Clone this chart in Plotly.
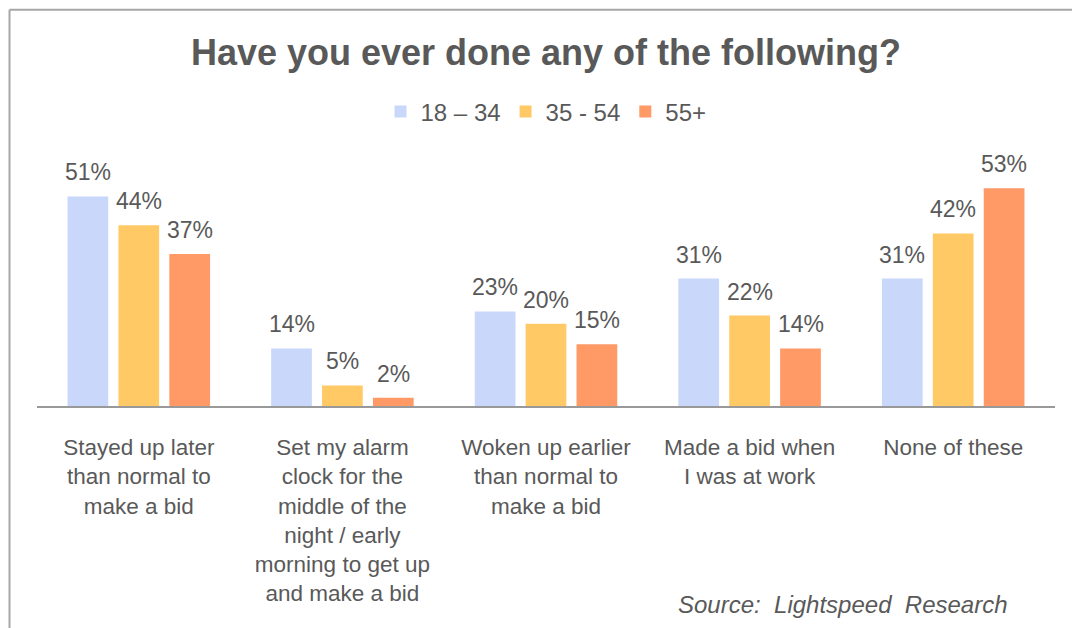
import plotly.graph_objects as go

categories = [
    "Stayed up later<br>than normal to<br>make a bid",
    "Set my alarm<br>clock for the<br>middle of the<br>night / early<br>morning to get up<br>and make a bid",
    "Woken up earlier<br>than normal to<br>make a bid",
    "Made a bid when<br>I was at work",
    "None of these",
]
series_names = ["18 – 34", "35 - 54", "55+"]
age_18_34 = [51, 14, 23, 31, 31]
age_35_54 = [44, 5, 20, 22, 42]
age_55_plus = [37, 2, 15, 14, 53]
series_values = [age_18_34, age_35_54, age_55_plus]
colors = ["#C9D7FA", "#FFC966", "#FF9966"]

TXT = "#595959"
FONT = "Liberation Sans, Arial, sans-serif"

x_idx = list(range(len(categories)))
fig = go.Figure()
for name, vals, col in zip(series_names, series_values, colors):
    fig.add_trace(go.Bar(x=x_idx, y=vals, name=name, marker=dict(color=col, line=dict(width=0))))

bargap = 0.25
slot = (1 - bargap) / len(series_names)
for si, vals in enumerate(series_values):
    off = (si - (len(series_names) - 1) / 2) * slot
    for ci, v in enumerate(vals):
        fig.add_annotation(x=ci + off, y=v, xref="x", yref="y", text=f"{v}%",
                           showarrow=False, yanchor="bottom", yshift=9,
                           font=dict(size=23, color=TXT, family=FONT))

fig.add_annotation(x=0.9558, y=-0.774, xref="paper", yref="paper",
                   text="<i>Source:  Lightspeed  Research</i>", showarrow=False,
                   xanchor="right", yanchor="middle",
                   font=dict(size=24, color=TXT, family=FONT))

# frame lines (left and top)
fig.add_shape(type="line", xref="paper", yref="paper", x0=-0.0270, x1=-0.0270, y0=-0.9, y1=1.5478,
              line=dict(color="#A6A6A6", width=2))
fig.add_shape(type="line", xref="paper", yref="paper", x0=-0.0270, x1=1.05, y0=1.5478, y1=1.5478,
              line=dict(color="#A6A6A6", width=2))

fig.update_layout(
    width=1072, height=628,
    margin=dict(l=37, r=17, t=150, b=221.5),
    paper_bgcolor="white", plot_bgcolor="white",
    barmode="group", bargap=bargap, bargroupgap=0.2,
    font=dict(family=FONT, color=TXT),
    title=dict(text="<b>Have you ever done any of the following?</b>",
               x=0.5, xref="paper", xanchor="center",
               y=1 - 52 / 628, yref="container", yanchor="middle",
               font=dict(size=36, color=TXT, family=FONT)),
    legend=dict(orientation="h", x=0.5, xanchor="center", xref="paper",
                y=1 - 112 / 628, yref="container", yanchor="middle",
                font=dict(size=24, color=TXT, family=FONT), traceorder="normal"),
    showlegend=True,
)
fig.update_xaxes(tickmode="array", tickvals=x_idx, ticktext=categories, range=[-0.5, 4.5],
                 showline=True, linecolor="#999999", linewidth=2, showgrid=False, zeroline=False,
                 ticks="", ticklabelstandoff=20,
                 tickfont=dict(size=22.5, color=TXT, family=FONT))
fig.update_yaxes(range=[0, 62.3], visible=False, showgrid=False, zeroline=False)

fig.write_html("out.html")
